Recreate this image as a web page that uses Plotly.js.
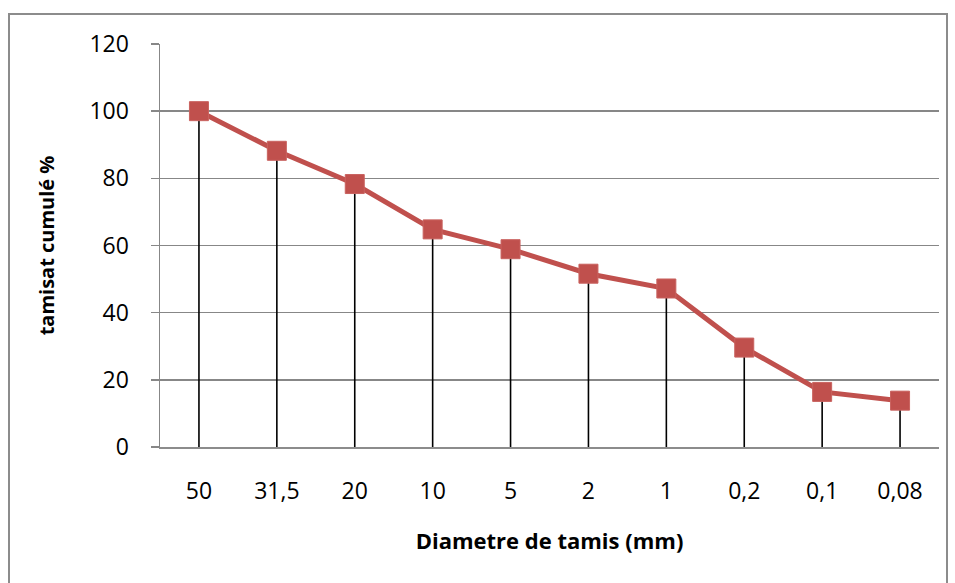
<!DOCTYPE html>
<html>
<head>
<meta charset="utf-8">
<script src="https://cdn.plot.ly/plotly-3.0.1.min.js"></script>
<style>
  html, body { margin: 0; padding: 0; background: #fff; }
  #wrap { position: relative; width: 955px; height: 583px; }
  #chart { width: 955px; height: 583px; }
  #frame { position: absolute; left: 8px; top: 13px; width: 940px; height: 580px;
           border: 2px solid #8c8c8c; pointer-events: none; box-sizing: border-box; }
</style>
</head>
<body>
<div id="wrap">
  <div id="chart"></div>
  <div id="frame"></div>
</div>
<script>
const categories = ["50", "31,5", "20", "10", "5", "2", "1", "0,2", "0,1", "0,08"];
const tamisat = [100, 88.2, 78.3, 64.8, 58.9, 51.6, 47.2, 29.6, 16.4, 13.8];
const yTicks = [0, 20, 40, 60, 80, 100, 120];

const font = "Open Sans, Lato, Liberation Sans, sans-serif";

const trace = {
  type: "scatter",
  mode: "lines+markers",
  x: categories,
  y: tamisat,
  line: { color: "#C0504D", width: 5 },
  marker: { symbol: "square", size: 19, color: "#C0504D", line: { color: "#C9625F", width: 1 } },
  error_y: {
    type: "data",
    symmetric: false,
    array: tamisat.map(() => 0),
    arrayminus: tamisat,
    color: "#000000",
    thickness: 1.6,
    width: 0
  },
  hoverinfo: "skip",
  showlegend: false
};

const layout = {
  width: 955,
  height: 583,
  margin: { l: 160, r: 16, t: 44, b: 136 },
  paper_bgcolor: "#ffffff",
  plot_bgcolor: "#ffffff",
  font: { family: font, color: "#000000", size: 22 },
  xaxis: {
    type: "category",
    range: [-0.5, 9.5],
    showgrid: false,
    showline: true,
    linecolor: "#8c8c8c",
    linewidth: 1.5,
    ticks: "outside",
    ticklen: 23,
    tickcolor: "rgba(0,0,0,0)",
    tickfont: { family: font, size: 23, color: "#000" },
    title: { text: "Diametre de tamis (mm)", font: { family: font, size: 22, color: "#000", weight: "bold" }, standoff: 28 },
    zeroline: false,
    fixedrange: true
  },
  yaxis: {
    range: [0, 120],
    tickvals: yTicks,
    showgrid: true,
    gridcolor: "#878787",
    gridwidth: 1.5,
    showline: true,
    linecolor: "#878787",
    linewidth: 1.5,
    ticks: "outside",
    ticklen: 8,
    tickcolor: "#878787",
    tickwidth: 1.5,
    ticklabelstandoff: 17,
    tickfont: { family: font, size: 23, color: "#000" },
    title: { text: "tamisat cumulé %", font: { family: font, size: 20, color: "#000", weight: "bold" }, standoff: 29 },
    zeroline: false,
    fixedrange: true
  }
};

Plotly.newPlot("chart", [trace], layout, { displayModeBar: false, staticPlot: true });
</script>
</body>
</html>
